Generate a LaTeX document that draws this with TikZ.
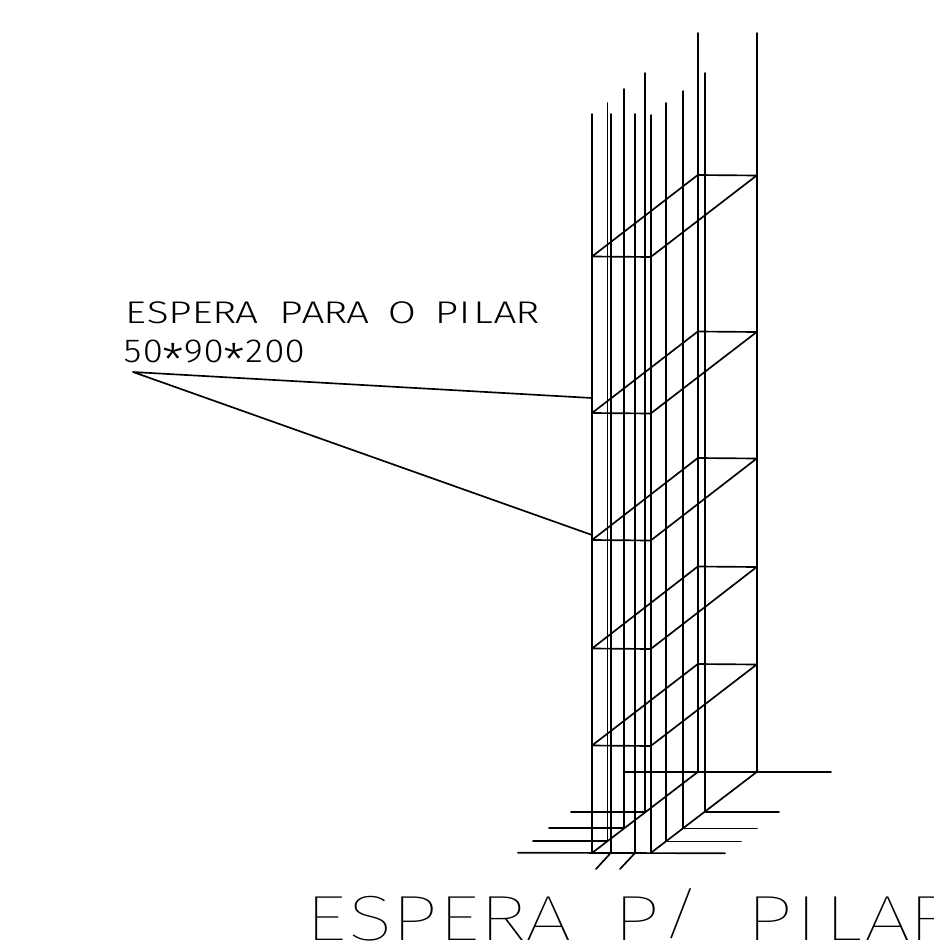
\documentclass[tikz,border=0pt]{standalone}
\usepackage{fontspec}
\newfontfamily\cadfont[FakeStretch=1.3]{Fira Sans Light}
\newfontfamily\caddigit[FakeStretch=1.1]{Fira Sans Light}
\newfontfamily\cadbig[FakeStretch=1.3]{Fira Sans Thin}
\newlength{\pitch}
\newcommand{\cl}[1]{\makebox[\pitch][c]{#1}}
\newcommand{\cn}[1]{\makebox[0.65\pitch][c]{#1}}
\newcommand{\cs}{\makebox[\pitch][c]{\raisebox{-0.42em}{\scalebox{1.35}{*}}}}
\newcommand{\cb}{\makebox[\pitch][c]{\raisebox{0.1em}{\scalebox{1}[0.88]{/}}}}
\tikzset{
  wire/.style={draw=black,line width=1.25pt,line cap=round,line join=round},
  cadlabel/.style={inner sep=0pt,outer sep=0pt,anchor=base west,text=black}
}
\begin{document}
\begin{tikzpicture}[x=0.75pt,y=-0.75pt]
\useasboundingbox (0,0) rectangle (933,949);
\clip (0,0) rectangle (933,949);
% vertical bars: x, top, bottom
\foreach \x/\t/\b in {592/114/853,607.5/103/841,610.7/114/853,623.7/89/828,635/114/853,645/73/812,650.7/115/853,665.8/103/841,682.7/91/828,697.8/33/772,704.7/73/812,756.7/33/772}
  \draw[wire] (\x,\t) -- (\x,\b);
% stirrups: back y, front y
\foreach \r/\f in {175.5/257,332/413.5,458.5/540.5,567/649,664.5/746}
  \draw[wire] (592,\f-0.5) -- (650.7,\f) -- (756.7,\r) -- (697.8,\r-0.5) -- cycle;
% base
\draw[wire] (592,853) -- (697.8,772);
\draw[wire] (650.7,853) -- (756.7,772);
\draw[wire] (624,771.7) -- (831,771.7);
\draw[wire] (571,812) -- (645,812);
\draw[wire] (704.7,812) -- (779,812);
\draw[wire] (549,828) -- (623.7,828);
\draw[wire] (682.7,828.5) -- (757,828.5);
\draw[wire] (533,841) -- (607.5,841);
\draw[wire] (665.8,841.5) -- (741,841.5);
\draw[wire] (518,852.7) -- (725,853.3);
\draw[wire] (610.7,853) -- (596,869);
\draw[wire] (635,853) -- (620,869);
% leader
\coordinate (leaderstart) at (133,372);
\coordinate (leaderA) at (592,398);
\coordinate (leaderB) at (592,535);
\draw[wire] (leaderA) -- (leaderstart) -- (leaderB);
% texts
\setlength{\pitch}{16.65pt}
\node[cadlabel] (title) at (124.5,323.5) {\cadfont\fontsize{23.5pt}{23.5pt}\selectfont\cl{E}\cl{S}\cl{P}\cl{E}\cl{R}\cl{A}\cl{~}\cl{P}\cl{A}\cl{R}\cl{A}\cl{~}\cl{O}\cl{~}\cl{P}\cn{I}\cl{L}\cl{A}\cl{R}};
\setlength{\pitch}{15.2pt}
\node[cadlabel] (size) at (122.5,362) {\caddigit\fontsize{25pt}{25pt}\selectfont\cl{5}\cl{0}\cs\cl{9}\cl{0}\cs\cl{2}\cl{0}\cl{0}};
\setlength{\pitch}{33.3pt}
\node[cadlabel] (big) at (304,940) {\cadbig\fontsize{48pt}{48pt}\selectfont\cl{E}\cl{S}\cl{P}\cl{E}\cl{R}\cl{A}\cl{~}\cl{P}\cb\cl{~}\cl{P}\cn{I}\cl{L}\cl{A}\cl{R}};
\end{tikzpicture}
\end{document}
